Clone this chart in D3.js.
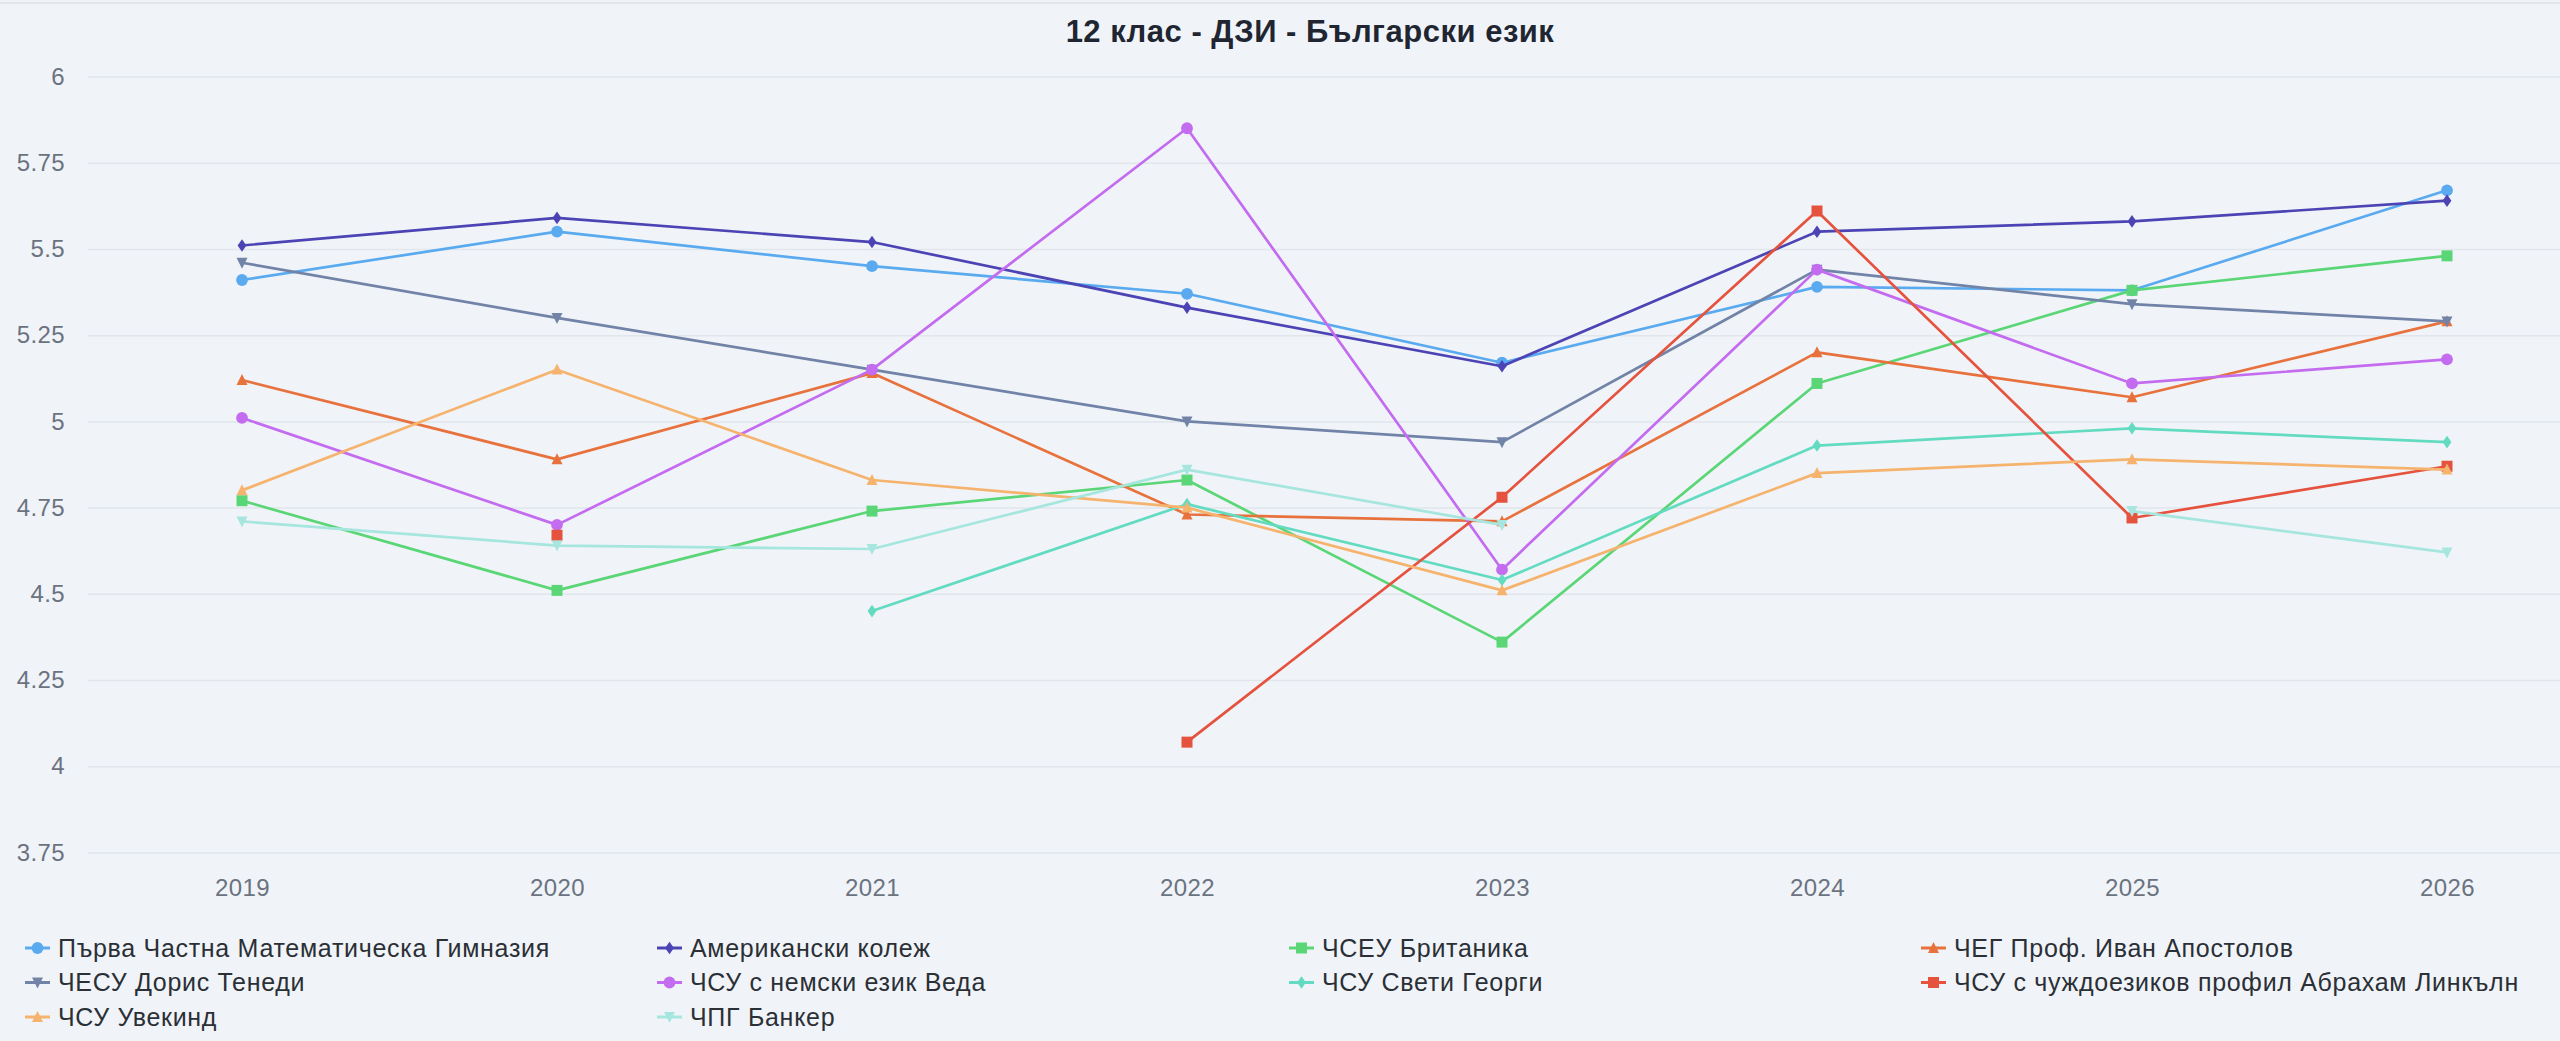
<!DOCTYPE html>
<html>
<head>
<meta charset="utf-8">
<title>12 клас - ДЗИ - Български език</title>
<script src="https://cdnjs.cloudflare.com/ajax/libs/d3/7.8.5/d3.min.js"></script>
<style>
  body { margin: 0; background: #f0f4f8; overflow: hidden; }
  text { font-family: "Liberation Sans", Arial, sans-serif; }
  .grid line { stroke: #e1e6ec; stroke-width: 1.5; }
  .grid path { display: none; }
  .axis text { fill: #6b7280; font-size: 24px; letter-spacing: 0.4px; }
</style>
</head>
<body>
<script>
// years on the x axis
const years = ["2019", "2020", "2021", "2022", "2023", "2024", "2025", "2026"];
const yTicks = [3.75, 4, 4.25, 4.5, 4.75, 5, 5.25, 5.5, 5.75, 6];

// schools (legend order)
const names = [
  "Първа Частна Математическа Гимназия",
  "Американски колеж",
  "ЧСЕУ Британика",
  "ЧЕГ Проф. Иван Апостолов",
  "ЧЕСУ Дорис Тенеди",
  "ЧСУ с немски език Веда",
  "ЧСУ Свети Георги",
  "ЧСУ с чуждоезиков профил Абрахам Линкълн",
  "ЧСУ Увекинд",
  "ЧПГ Банкер"
];

// average scores, null = no data that year
const pchmg     = [5.41, 5.55, 5.45, 5.37, 5.17, 5.39, 5.38, 5.67];
const amCollege = [5.51, 5.59, 5.52, 5.33, 5.16, 5.55, 5.58, 5.64];
const britanika = [4.77, 4.51, 4.74, 4.83, 4.36, 5.11, 5.38, 5.48];
const apostolov = [5.12, 4.89, 5.14, 4.73, 4.71, 5.20, 5.07, 5.29];
const tenedi    = [5.46, 5.30, 5.15, 5.00, 4.94, 5.44, 5.34, 5.29];
const veda      = [5.01, 4.70, 5.15, 5.85, 4.57, 5.44, 5.11, 5.18];
const svGeorgi  = [null, null, 4.45, 4.76, 4.54, 4.93, 4.98, 4.94];
const lincoln   = [null, 4.67, null, 4.07, 4.78, 5.61, 4.72, 4.87];
const uvekind   = [4.80, 5.15, 4.83, 4.75, 4.51, 4.85, 4.89, 4.86];
const banker    = [4.71, 4.64, 4.63, 4.86, 4.70, null, 4.74, 4.62];

const values = [pchmg, amCollege, britanika, apostolov, tenedi, veda, svGeorgi, lincoln, uvekind, banker];
const colors = ["#5aaaf0", "#4c44b4", "#5bd677", "#e8723d", "#7283a8", "#c46cf0", "#63dbc0", "#e5523e", "#f5b36e", "#a6e6de"];
const shapes = ["circle", "diamond", "square", "triangle", "down", "circle", "diamond", "square", "triangle", "down"];

const series = names.map((n, i) => ({
  name: n, color: colors[i], shape: shapes[i],
  pts: years.map((yr, j) => ({ year: yr, v: values[i][j] }))
}));

const W = 2560, H = 1041;
const svg = d3.select("body").append("svg").attr("width", W).attr("height", H);

svg.append("rect").attr("width", W).attr("height", H).attr("fill", "#f0f4f8");
svg.append("line").attr("x1", 0).attr("x2", W).attr("y1", 3).attr("y2", 3)
  .attr("stroke", "#e2e6eb").attr("stroke-width", 2);

const x = d3.scalePoint().domain(years).range([242, 2447]);
const y = d3.scaleLinear().domain([3.75, 6]).range([852.5, 76.5]);

// title
svg.append("text")
  .attr("x", 1310).attr("y", 42)
  .attr("text-anchor", "middle")
  .attr("font-size", 31).attr("font-weight", "bold")
  .attr("letter-spacing", "0.5px")
  .attr("fill", "#1f2632")
  .text("12 клас - ДЗИ - Български език");

// y axis + grid
const left = 88;
svg.append("g")
  .attr("class", "grid axis")
  .attr("transform", "translate(" + left + ",0)")
  .call(d3.axisLeft(y).tickValues(yTicks).tickSize(-(W - left)).tickPadding(23).tickFormat(d => d));

// x axis
const xa = svg.append("g")
  .attr("class", "axis")
  .attr("transform", "translate(0,852.5)")
  .call(d3.axisBottom(x).tickSize(0).tickPadding(26));
xa.select(".domain").remove();

function symbolPath(shape, s) {
  const h = s / 2;
  if (shape === "circle") return d3.symbol(d3.symbolCircle, Math.PI * h * h * 1.15)();
  if (shape === "square") return "M" + (-h) + "," + (-h) + "h" + s + "v" + s + "h" + (-s) + "Z";
  if (shape === "diamond") return "M0," + (-h * 1.15) + "L" + (h * 0.8) + ",0L0," + (h * 1.15) + "L" + (-h * 0.8) + ",0Z";
  if (shape === "triangle") return "M0," + (-h * 1.1) + "L" + h + "," + (h * 0.9) + "L" + (-h) + "," + (h * 0.9) + "Z";
  return "M0," + (h * 1.1) + "L" + h + "," + (-h * 0.9) + "L" + (-h) + "," + (-h * 0.9) + "Z";
}

const line = d3.line()
  .defined(d => d.v != null)
  .x(d => x(d.year))
  .y(d => y(d.v));

const plot = svg.append("g");
series.forEach(s => {
  const g = plot.append("g");
  g.append("path")
    .attr("d", line(s.pts))
    .attr("fill", "none")
    .attr("stroke", s.color)
    .attr("stroke-width", 2.7)
    .attr("stroke-linejoin", "round");
  g.selectAll("path.pt")
    .data(s.pts.filter(d => d.v != null))
    .enter().append("path")
    .attr("class", "pt")
    .attr("transform", d => "translate(" + x(d.year) + "," + y(d.v) + ")")
    .attr("d", symbolPath(s.shape, 11))
    .attr("fill", s.color);
});

// legend, 4 columns
const colX = [25, 657, 1289, 1921];
const rowY = [948, 982.5, 1017];
const leg = svg.append("g");
series.forEach((s, i) => {
  const gx = colX[i % 4], gy = rowY[Math.floor(i / 4)];
  const g = leg.append("g").attr("transform", "translate(" + gx + "," + gy + ")");
  g.append("line").attr("x1", 0).attr("x2", 25).attr("y1", 0).attr("y2", 0)
    .attr("stroke", s.color).attr("stroke-width", 3);
  g.append("path").attr("transform", "translate(12.5,0)")
    .attr("d", symbolPath(s.shape, 11)).attr("fill", s.color);
  g.append("text").attr("x", 33).attr("y", 0).attr("dy", "0.35em")
    .attr("font-size", 25).attr("letter-spacing", "0.7px").attr("fill", "#2b2f36")
    .text(s.name);
});
</script>
</body>
</html>
